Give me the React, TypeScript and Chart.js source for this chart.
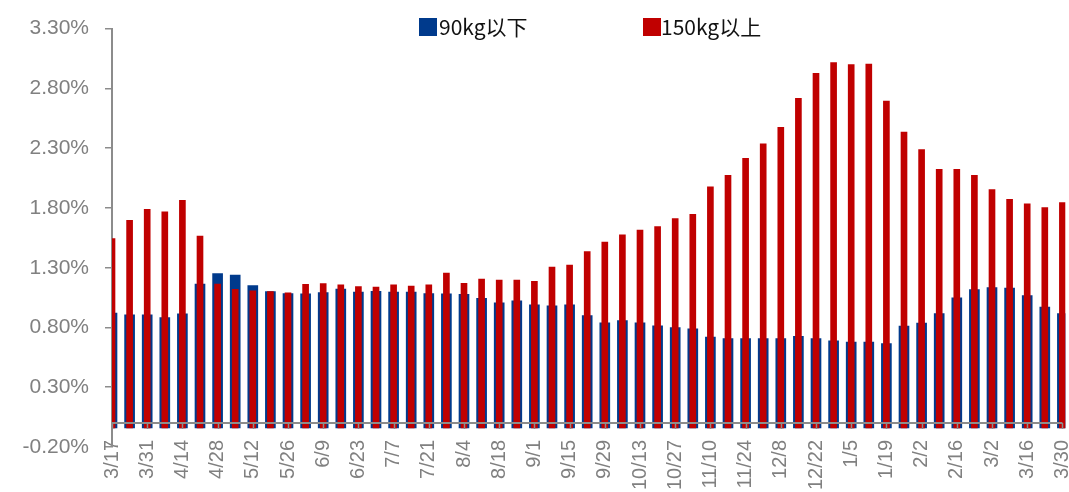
import React, { useEffect, useRef } from 'react';
import { Chart, registerables } from 'chart.js';

Chart.register(...registerables);

const dates = [
  '3/17', '3/24', '3/31', '4/7', '4/14', '4/21', '4/28', '5/5', '5/12', '5/19',
  '5/26', '6/2', '6/9', '6/16', '6/23', '6/30', '7/7', '7/14', '7/21', '7/28',
  '8/4', '8/11', '8/18', '8/25', '9/1', '9/8', '9/15', '9/22', '9/29', '10/6',
  '10/13', '10/20', '10/27', '11/3', '11/10', '11/17', '11/24', '11/30', '12/8', '12/15',
  '12/22', '12/29', '1/5', '1/12', '1/19', '1/26', '2/2', '2/9', '2/16', '2/23',
  '3/2', '3/9', '3/16', '3/23', '3/30',
];

const below90 = [
  0.92, 0.906, 0.906, 0.883, 0.914, 1.164, 1.25, 1.239, 1.15, 1.10,
  1.083, 1.081, 1.092, 1.122, 1.097, 1.103, 1.097, 1.097, 1.083, 1.081,
  1.078, 1.044, 1.006, 1.022, 0.989, 0.981, 0.989, 0.90, 0.839, 0.858,
  0.839, 0.814, 0.80, 0.789, 0.719, 0.708, 0.708, 0.708, 0.708, 0.727,
  0.708, 0.688, 0.677, 0.677, 0.666, 0.811, 0.836, 0.917, 1.048, 1.118,
  1.134, 1.129, 1.068, 0.97, 0.917,
];

const above150 = [
  1.544, 1.697, 1.789, 1.767, 1.864, 1.564, 1.164, 1.119, 1.106, 1.10,
  1.089, 1.161, 1.167, 1.156, 1.142, 1.139, 1.156, 1.147, 1.156, 1.256,
  1.169, 1.206, 1.197, 1.197, 1.186, 1.306, 1.322, 1.436, 1.514, 1.575,
  1.614, 1.644, 1.711, 1.747, 1.976, 2.074, 2.216, 2.336, 2.475, 2.717,
  2.926, 3.016, 2.999, 3.004, 2.695, 2.436, 2.288, 2.124, 2.124, 2.074,
  1.954, 1.873, 1.834, 1.803, 1.845,
];

const seriesNames = ['90kg以下', '150kg以上'];
const Y_MIN = -0.2;
const Y_MAX = 3.3;
const Y_STEP = 0.5;

const BLUE = '#003A8C';
const RED = '#C00000';
const AXIS_GRAY = '#8c8c8c';
const LABEL_GRAY = '#808080';
const AXIS_FONT = "'Liberation Sans', Arial, sans-serif";
const LEGEND_FONT = "'Noto Sans CJK SC', 'Noto Sans', sans-serif";

const overlayPlugin = {
  id: 'overlay',
  afterDatasetsDraw(chart: any) {
    const { ctx, chartArea, scales } = chart;
    const x = scales.x;
    const y = scales.y;
    const y0 = y.getPixelForValue(0);
    ctx.save();
    ctx.strokeStyle = AXIS_GRAY;
    ctx.lineWidth = 2;
    ctx.beginPath();
    ctx.moveTo(chartArea.left, y0);
    ctx.lineTo(chartArea.right, y0);
    ctx.stroke();
    ctx.lineWidth = 1.5;
    ctx.beginPath();
    for (let i = 0; i < dates.length; i += 2) {
      const px = Math.round(x.getPixelForValue(i)) + 0.5;
      ctx.moveTo(px, y0);
      ctx.lineTo(px, y0 + 6);
    }
    ctx.stroke();
    ctx.restore();
  },
  afterDraw(chart: any) {
    const { ctx } = chart;
    const items = [
      { text: chart.data.datasets[0].label, color: BLUE, bx: 419, tx: 439 },
      { text: chart.data.datasets[1].label, color: RED, bx: 643, tx: 661 },
    ];
    ctx.save();
    ctx.font = `21px ${LEGEND_FONT}`;
    ctx.textBaseline = 'middle';
    ctx.textAlign = 'left';
    items.forEach((it) => {
      ctx.fillStyle = it.color;
      ctx.fillRect(it.bx, 18, 18, 18);
      ctx.fillStyle = '#111';
      ctx.fillText(it.text, it.tx, 27);
    });
    ctx.restore();
  },
};

export default function App() {
  const canvasRef = useRef<HTMLCanvasElement | null>(null);

  useEffect(() => {
    if (!canvasRef.current) return;
    const clip = { left: 0, right: 3, top: false, bottom: false } as any;
    const chart = new Chart(canvasRef.current, {
      type: 'bar',
      data: {
        labels: dates,
        datasets: [
          {
            label: seriesNames[0],
            data: below90,
            backgroundColor: BLUE,
            barThickness: 10,
            grouped: false,
            order: 2,
            base: -0.04,
            clip,
          } as any,
          {
            label: seriesNames[1],
            data: above150,
            backgroundColor: RED,
            barThickness: 6,
            grouped: false,
            order: 1,
            base: -0.04,
            clip,
          } as any,
        ],
      },
      options: {
        animation: false,
        responsive: true,
        maintainAspectRatio: false,
        layout: { padding: { top: 28.7, right: 6.6, bottom: 0, left: 0 } },
        plugins: {
          legend: { display: false },
          tooltip: { enabled: false },
        },
        scales: {
          x: {
            type: 'category',
            offset: false,
            grid: { display: false, drawTicks: false },
            border: { display: false },
            ticks: {
              autoSkip: false,
              maxRotation: 90,
              minRotation: 90,
              padding: -7,
              color: LABEL_GRAY,
              font: { size: 20, family: AXIS_FONT },
              callback: (_v: any, i: number) => (i % 2 === 0 ? dates[i] : ''),
            },
            afterFit: (s: any) => {
              s.height = 45;
              s.paddingLeft = 0;
              s.paddingRight = 0;
              s._computeLabelArea = () => undefined;
            },
          },
          y: {
            min: Y_MIN,
            max: Y_MAX,
            z: 1,
            grid: {
              display: true,
              drawOnChartArea: false,
              drawTicks: true,
              tickLength: 7,
              color: AXIS_GRAY,
              lineWidth: 1.5,
            },
            border: { display: true, color: AXIS_GRAY, width: 2 },
            ticks: {
              stepSize: Y_STEP,
              padding: 16,
              color: LABEL_GRAY,
              font: { size: 21, family: AXIS_FONT },
              callback: (v: any) => Number(v).toFixed(2) + '%',
            },
            afterFit: (s: any) => {
              s.width = 112;
              s.paddingTop = 0;
              s.paddingBottom = 0;
            },
          },
        },
      } as any,
      plugins: [overlayPlugin],
    });
    return () => chart.destroy();
  }, []);

  return (
    <div style={{ position: 'fixed', left: 0, top: 0, width: 1069, height: 492, background: '#fff' }}>
      <canvas ref={canvasRef} />
    </div>
  );
}
